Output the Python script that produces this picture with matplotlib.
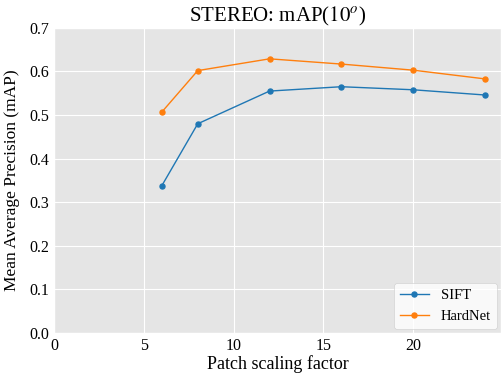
import matplotlib
matplotlib.use("Agg")
import matplotlib.pyplot as plt

plt.style.use("ggplot")
plt.rcParams["font.family"] = ["Liberation Serif", "DejaVu Serif"]
plt.rcParams["mathtext.fontset"] = "stix"

scales = [6, 8, 12, 16, 20, 24]
sift = [0.338, 0.480, 0.555, 0.565, 0.558, 0.546]
hardnet = [0.507, 0.602, 0.629, 0.617, 0.603, 0.583]

fig, ax = plt.subplots(figsize=(5.02, 3.77), dpi=100)
ax.plot(scales, sift, "-o", color="#1f77b4", lw=1.0, ms=3.6, label="SIFT")
ax.plot(scales, hardnet, "-o", color="#ff7f0e", lw=1.0, ms=3.6, label="HardNet")

ax.set_xlim(left=0)
ax.set_ylim(0, 0.7)
ax.set_title("STEREO: mAP($10^o$)", fontsize=15, color="black", pad=4)
ax.set_xlabel("Patch scaling factor", fontsize=13, color="black", labelpad=1)
ax.set_ylabel("Mean Average Precision (mAP)", fontsize=12.5, color="black", labelpad=7)
ax.tick_params(axis="both", labelsize=11.5, labelcolor="black", length=0)
ax.legend(loc="lower right", fontsize=10.5, facecolor="white", framealpha=0.8,
          borderaxespad=0.3)

fig.subplots_adjust(left=0.108, right=0.998, top=0.926, bottom=0.117)
fig.savefig("out.png")
